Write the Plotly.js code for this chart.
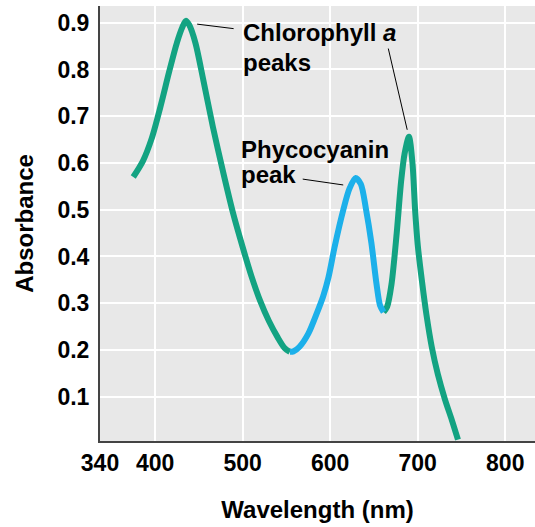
<!DOCTYPE html>
<html>
<head>
<meta charset="utf-8">
<script src="https://cdn.plot.ly/plotly-3.0.1.min.js"></script>
<style>html,body{margin:0;padding:0;background:#fff;}#chart{width:535px;height:527px;}</style>
</head>
<body>
<div id="chart"></div>
<script>
// Chlorophyll a absorbance (first part, green)
const chlA1Wavelength = [375,386,396,406,416,425,431,435,439,446,455,466,478,489,500,510,520,530,540,548,554];
const chlA1Absorbance = [0.570,0.604,0.652,0.720,0.795,0.858,0.890,0.904,0.895,0.857,0.778,0.677,0.578,0.493,0.420,0.358,0.305,0.262,0.227,0.204,0.196];
// Phycocyanin region (blue)
const phycoWavelength = [554,558,565,575,585,592,598,605,615,622,629,635,641,647,653,657,661];
const phycoAbsorbance = [0.196,0.197,0.207,0.235,0.280,0.315,0.355,0.420,0.500,0.545,0.568,0.555,0.500,0.430,0.340,0.295,0.281];
// Chlorophyll a absorbance (second part, green)
const chlA2Wavelength = [661,665,670,676,681,685,690,694,697,700,705,710,716,723,731,739,746];
const chlA2Absorbance = [0.281,0.292,0.340,0.450,0.560,0.620,0.656,0.600,0.500,0.425,0.345,0.275,0.207,0.148,0.095,0.050,0.008];

const xTickVals = [337,400,500,600,700,800];
const xTickText = ['340','400','500','600','700','800'];
const yTickVals = [0.1,0.2,0.3,0.4,0.5,0.6,0.7,0.8,0.9];
const yTickText = ['0.1','0.2','0.3','0.4','0.5','0.6','0.7','0.8','0.9'];

const GREEN = '#13a382';
const BLUE = '#1cb0ea';
const FONT = '"Liberation Sans", Arial, Helvetica, sans-serif';

const traces = [
  {x: chlA1Wavelength, y: chlA1Absorbance, mode: 'lines', line: {color: GREEN, width: 6, shape: 'spline', smoothing: 0.8}, hoverinfo: 'skip', showlegend: false},
  {x: chlA2Wavelength, y: chlA2Absorbance, mode: 'lines', line: {color: GREEN, width: 6, shape: 'spline', smoothing: 0.8}, hoverinfo: 'skip', showlegend: false},
  {x: phycoWavelength, y: phycoAbsorbance, mode: 'lines', line: {color: BLUE, width: 6, shape: 'spline', smoothing: 0.8}, hoverinfo: 'skip', showlegend: false}
];

const labelFont = {family: FONT, size: 24, color: '#000', weight: 700};
function leader(x0, y0, x1, y1) {
  return {x: x1, y: y1, ax: x0, ay: y0, xref: 'x', yref: 'y', axref: 'x', ayref: 'y',
          text: '', showarrow: true, arrowhead: 0, arrowwidth: 1, arrowcolor: '#000', standoff: 0, startstandoff: 0};
}
function label(txt, x, y) {
  return {x: x, y: y, xref: 'x', yref: 'y', text: txt, showarrow: false, xanchor: 'left', yanchor: 'middle', font: labelFont, borderpad: 0};
}

const layout = {
  width: 535, height: 527,
  margin: {l: 100, r: 0, t: 6, b: 86, pad: 0},
  paper_bgcolor: '#ffffff',
  plot_bgcolor: '#e8e8e8',
  font: {family: FONT, size: 23, color: '#000', weight: 700},
  xaxis: {
    range: [337, 834], tickvals: xTickVals, ticktext: xTickText,
    showgrid: true, gridcolor: '#ffffff', gridwidth: 2,
    showline: true, linecolor: '#444', linewidth: 2,
    ticks: '', ticklabelstandoff: 0, zeroline: false,
    tickfont: {family: FONT, size: 23, color: '#000', weight: 700},
    title: {text: 'Wavelength (nm)', font: {family: FONT, size: 24, color: '#000', weight: 700}, standoff: 27}
  },
  yaxis: {
    range: [0.0053, 0.9358], tickvals: yTickVals, ticktext: yTickText,
    showgrid: true, gridcolor: '#ffffff', gridwidth: 2,
    showline: true, linecolor: '#444', linewidth: 2,
    ticks: '', ticklabelstandoff: 4, zeroline: false,
    tickfont: {family: FONT, size: 23, color: '#000', weight: 700},
    title: {text: 'Absorbance', font: {family: FONT, size: 24, color: '#000', weight: 700}, standoff: 17}
  },
  annotations: [
    label('Chlorophyll <i>a</i>', 499.4, 0.880),
    label('peaks', 499.4, 0.815),
    label('Phycocyanin', 497.1, 0.628),
    label('peak', 497.1, 0.575),
    leader(491.4, 0.887, 448, 0.897),
    leader(666, 0.848, 688, 0.671),
    leader(566.9, 0.566, 614.9, 0.553)
  ]
};

Plotly.newPlot('chart', traces, layout, {displayModeBar: false, staticPlot: true});
</script>
</body>
</html>
